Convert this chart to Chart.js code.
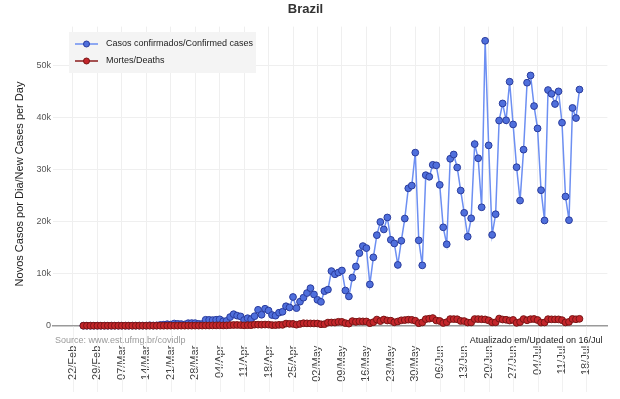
<!DOCTYPE html>
<html><head><meta charset="utf-8">
<script src="https://cdn.jsdelivr.net/npm/chart.js@4"></script>
<style>html,body{margin:0;padding:0;background:#fff}#wrap{position:relative;width:620px;height:399px}</style>
</head><body><div id="wrap"><canvas id="c" width="620" height="399"></canvas></div>
<script>
const chartTitle = 'Brazil';
const yAxisTitle = 'Novos Casos por Dia/New Cases per Day';
const seriesNames = ['Casos confirmados/Confirmed cases', 'Mortes/Deaths'];
const sourceText = 'Source: www.est.ufmg.br/covidlp';
const updatedText = 'Atualizado em/Updated on 16/Jul';
// first data point is 25/Feb; x positions are days counted from 22/Feb
const firstDayOffset = 3;

const cases = [
  0,1,0,0,1,
  0,0,0,1,4,5,6,6,5,9,18,25,21,23,79,34,57,137,193,283,224,418,345,310,232,482,502,487,352,323,1138,
  1119,1074,1146,1222,852,926,1661,2210,1930,1781,1089,1442,1261,1832,3058,2105,3257,2917,2055,1927,2498,2678,3735,3503,5514,3379,4613,5385,6276,7218,
  6000,4970,4588,6633,6935,10503,9888,10222,10611,6760,5632,9258,11385,13944,15305,14919,7938,13140,17408,19951,18508,20803,16508,15813,11687,16324,20599,26417,26928,33274,16409,
  11598,28936,28633,30925,30830,27075,18912,15654,32091,32913,30412,25982,21704,17110,20647,34918,32188,22765,54771,34666,17459,21432,39436,42725,39483,46907,38693,30476,24052,33846,
  46712,48105,42223,37923,26051,20229,45305,44571,42619,45048,39023,24831,20286,41857,39924,45403
];
const deaths = [
  0,0,0,0,0,
  0,0,0,0,0,0,0,0,0,0,0,0,0,0,0,0,1,2,3,5,7,7,9,12,12,20,15,22,22,23,42,
  40,58,60,73,54,67,114,133,141,115,68,99,105,204,204,188,217,206,115,113,166,165,407,357,346,189,338,474,449,435,
  428,421,275,296,600,615,610,751,730,496,396,881,749,844,824,816,485,674,1179,888,1188,1001,965,653,807,1039,1086,1156,1124,956,480,
  623,1262,1349,1473,1005,904,525,679,1272,1274,1239,909,892,612,627,1282,1269,1238,1206,1022,641,654,1374,1185,1141,990,1109,552,692,1280,
  1038,1252,1290,1091,602,620,1254,1223,1220,1214,1071,631,733,1300,1233,1322
];
const tickDays = [0,7,14,21,28,35,42,49,56,63,70,77,84,91,98,105,112,119,126,133,140,147];
const tickLabels = ['22/Feb','29/Feb','07/Mar','14/Mar','21/Mar','28/Mar','04/Apr','11/Apr','18/Apr','25/Apr','02/May','09/May','16/May','23/May','30/May','06/Jun','13/Jun','20/Jun','27/Jun','04/Jul','11/Jul','18/Jul'];
const yTicks = [0,10000,20000,30000,40000,50000];
const yTickLabels = ['0','10k','20k','30k','40k','50k'];

const FONT = '"Liberation Sans", Arial, sans-serif';
Chart.defaults.font.family = FONT;

const styles = [
  {line:'#6d8ff2', fill:'#4f6fdc', border:'#2a3c9c'},
  {line:'#8b1d1d', fill:'#c4262b', border:'#7a1515'}
];

const extras = {
  id: 'extras',
  beforeDatasetsDraw(chart) {
    const ctx = chart.ctx, xs = chart.scales.x, a = chart.chartArea;
    ctx.save();
    ctx.strokeStyle = '#f1f1f1';
    ctx.lineWidth = 1;
    tickDays.forEach(d => {
      const x = Math.round(xs.getPixelForValue(d)) + 0.5;
      ctx.beginPath(); ctx.moveTo(x, a.bottom + 1); ctx.lineTo(x, 392); ctx.stroke();
    });
    ctx.restore();
  },
  afterDraw(chart) {
    const ctx = chart.ctx, a = chart.chartArea;
    ctx.save();
    // y axis title
    ctx.save();
    ctx.translate(20, 184);
    ctx.rotate(-Math.PI / 2);
    ctx.font = '11px ' + FONT;
    ctx.fillStyle = '#222';
    ctx.textAlign = 'center';
    ctx.textBaseline = 'middle';
    ctx.fillText(yAxisTitle, 0, 0);
    ctx.restore();
    // footer texts
    ctx.font = '9px ' + FONT;
    ctx.textBaseline = 'middle';
    ctx.fillStyle = '#9a9a9a';
    ctx.textAlign = 'left';
    ctx.fillText(sourceText, a.left + 2, a.bottom + 15);
    ctx.fillStyle = '#222';
    ctx.textAlign = 'right';
    ctx.fillText(updatedText, a.right - 5, a.bottom + 15);
    // legend
    const lx = 69, ly = 32, lw = 187, lh = 41;
    ctx.fillStyle = '#f4f4f4';
    ctx.fillRect(lx, ly, lw, lh);
    chart.data.datasets.forEach((ds, i) => {
      const y = ly + 12 + i * 17;
      const st = styles[i];
      ctx.strokeStyle = st.line; ctx.lineWidth = 1.5;
      ctx.beginPath(); ctx.moveTo(lx + 6, y); ctx.lineTo(lx + 29, y); ctx.stroke();
      ctx.beginPath(); ctx.arc(lx + 17.5, y, 3, 0, Math.PI * 2);
      ctx.fillStyle = st.fill; ctx.fill();
      ctx.strokeStyle = st.border; ctx.lineWidth = 1; ctx.stroke();
      ctx.fillStyle = '#222'; ctx.textAlign = 'left';
      ctx.font = '9px ' + FONT;
      ctx.fillText(ds.label, lx + 37, y);
    });
    ctx.restore();
  }
};

const mk = (arr) => arr.map((v, i) => ({x: i + firstDayOffset, y: v}));

new Chart(document.getElementById('c'), {
  type: 'line',
  data: {
    datasets: [
      {label: seriesNames[0], data: mk(cases), borderColor: styles[0].line, borderWidth: 1.5,
       pointRadius: 3.4, pointBackgroundColor: styles[0].fill, pointBorderColor: styles[0].border,
       pointBorderWidth: 1, order: 1, clip: false, tension: 0},
      {label: seriesNames[1], data: mk(deaths), borderColor: styles[1].line, borderWidth: 1.5,
       pointRadius: 3.4, pointBackgroundColor: styles[1].fill, pointBorderColor: styles[1].border,
       pointBorderWidth: 1, order: 0, clip: false, tension: 0}
    ]
  },
  options: {
    responsive: false, animation: false, devicePixelRatio: 1,
    layout: {padding: {left: 0, right: 9, top: 0, bottom: 0}},
    plugins: {
      legend: {display: false}, tooltip: {enabled: false},
      title: {display: true, text: chartTitle, color: '#333', font: {size: 13, weight: 'bold'}, padding: {top: 2, bottom: 9}}
    },
    scales: {
      x: {
        type: 'linear', min: -5.7, max: 153,
        afterBuildTicks: s => { s.ticks = tickDays.map(v => ({value: v})); },
        afterFit: s => { s.height = 73.3; },
        ticks: {autoSkip: false, minRotation: 90, maxRotation: 90, padding: 20, color: '#444', font: {size: 11},
                callback: (v, i) => tickLabels[i]},
        grid: {color: '#efefef', drawTicks: false},
        border: {display: true, color: '#9a9a9a', width: 1.5}
      },
      y: {
        min: 0, max: 57500,
        afterBuildTicks: s => { s.ticks = yTicks.map(v => ({value: v})); },
        afterFit: s => { s.width = 53; },
        ticks: {color: '#555', font: {size: 9}, padding: 2, callback: (v, i) => yTickLabels[i]},
        grid: {color: '#efefef', drawTicks: false},
        border: {display: false}
      }
    }
  },
  plugins: [extras]
});
</script></body></html>
